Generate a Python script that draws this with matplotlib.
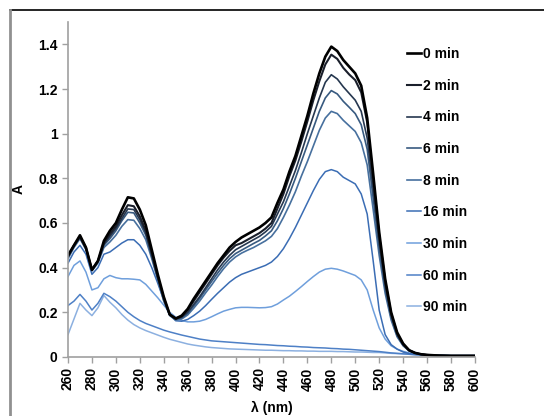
import matplotlib
matplotlib.use("Agg")
import matplotlib.pyplot as plt
from matplotlib.lines import Line2D

plt.rcParams['font.family'] = ['Liberation Sans', 'DejaVu Sans']
plt.rcParams['font.weight'] = 'bold'

# wavelength grid (nm)
wl = list(range(260, 561, 5)) + [570, 580, 590, 600]

labels = ["0 min", "2 min", "4 min", "6 min", "8 min", "16 min", "30 min", "60 min", "90 min"]
colors = ["#000000", "#1a1f2b", "#26374f", "#385a80", "#47709e", "#3b6db4", "#6f9fdc", "#4e80c6", "#8cb0e0"]
widths = [1.9, 1.5, 1.2, 1.2, 1.2, 1.1, 1.1, 1.1, 1.1]

a0 = [0.455, 0.50, 0.545, 0.49, 0.39, 0.43, 0.52, 0.565, 0.60, 0.66, 0.715, 0.71, 0.66,
      0.59, 0.48, 0.37, 0.27, 0.19, 0.172, 0.185, 0.215, 0.26, 0.30, 0.34, 0.38, 0.42,
      0.455, 0.49, 0.515, 0.535, 0.55, 0.565, 0.58, 0.60, 0.625, 0.69, 0.75, 0.83, 0.90,
      0.99, 1.08, 1.18, 1.27, 1.345, 1.39, 1.37, 1.33, 1.30, 1.27, 1.215, 1.07, 0.82,
      0.56, 0.35, 0.20, 0.11, 0.06, 0.03, 0.018, 0.012, 0.009, 0.006, 0.005, 0.005, 0.005]
a2 = [0.45, 0.50, 0.54, 0.49, 0.39, 0.43, 0.51, 0.55, 0.585, 0.635, 0.68, 0.675, 0.63,
      0.565, 0.465, 0.36, 0.265, 0.19, 0.172, 0.182, 0.21, 0.25, 0.29, 0.33, 0.37, 0.41,
      0.445, 0.475, 0.50, 0.51, 0.525, 0.54, 0.555, 0.575, 0.60, 0.665, 0.73, 0.81, 0.88,
      0.965, 1.055, 1.15, 1.235, 1.31, 1.354, 1.335, 1.295, 1.265, 1.24, 1.185, 1.05, 0.80,
      0.545, 0.34, 0.195, 0.105, 0.057, 0.03, 0.018, 0.012, 0.009, 0.006, 0.005, 0.005, 0.005]
a4 = [0.45, 0.50, 0.535, 0.485, 0.39, 0.43, 0.505, 0.54, 0.575, 0.62, 0.663, 0.66, 0.615,
      0.555, 0.455, 0.355, 0.26, 0.19, 0.17, 0.178, 0.20, 0.235, 0.27, 0.31, 0.35, 0.39,
      0.425, 0.455, 0.48, 0.495, 0.51, 0.525, 0.54, 0.56, 0.585, 0.64, 0.695, 0.765, 0.835,
      0.915, 1.0, 1.08, 1.16, 1.23, 1.264, 1.245, 1.21, 1.18, 1.15, 1.10, 0.98, 0.75,
      0.515, 0.32, 0.185, 0.10, 0.055, 0.03, 0.018, 0.012, 0.009, 0.006, 0.005, 0.005, 0.005]
a6 = [0.445, 0.495, 0.535, 0.485, 0.39, 0.425, 0.50, 0.53, 0.565, 0.61, 0.648, 0.645, 0.60,
      0.545, 0.45, 0.35, 0.255, 0.188, 0.168, 0.175, 0.195, 0.228, 0.262, 0.30, 0.338, 0.375,
      0.41, 0.44, 0.463, 0.478, 0.493, 0.508, 0.522, 0.542, 0.565, 0.61, 0.665, 0.73, 0.80,
      0.875, 0.95, 1.025, 1.10, 1.16, 1.193, 1.178, 1.145, 1.118, 1.09, 1.04, 0.93, 0.71,
      0.49, 0.305, 0.175, 0.095, 0.052, 0.028, 0.017, 0.011, 0.008, 0.006, 0.005, 0.005, 0.005]
a8 = [0.44, 0.49, 0.53, 0.48, 0.385, 0.42, 0.49, 0.515, 0.545, 0.585, 0.615, 0.612, 0.575,
      0.525, 0.44, 0.345, 0.25, 0.185, 0.165, 0.17, 0.188, 0.218, 0.25, 0.287, 0.322, 0.36,
      0.395, 0.425, 0.448, 0.465, 0.478, 0.49, 0.505, 0.52, 0.54, 0.575, 0.625, 0.68, 0.74,
      0.81, 0.875, 0.945, 1.015, 1.07, 1.10, 1.09, 1.06, 1.035, 1.01, 0.96, 0.86, 0.66,
      0.455, 0.285, 0.165, 0.09, 0.05, 0.027, 0.016, 0.011, 0.008, 0.006, 0.005, 0.005, 0.005]
a16 = [0.42, 0.47, 0.50, 0.46, 0.37, 0.40, 0.46, 0.47, 0.49, 0.51, 0.525, 0.525, 0.50,
       0.46, 0.40, 0.33, 0.255, 0.19, 0.162, 0.16, 0.168, 0.185, 0.205, 0.23, 0.258, 0.285,
       0.31, 0.335, 0.355, 0.37, 0.38, 0.39, 0.40, 0.41, 0.425, 0.45, 0.485, 0.53, 0.58,
       0.635, 0.69, 0.745, 0.795, 0.83, 0.839, 0.83, 0.805, 0.79, 0.775, 0.73, 0.64, 0.43,
       0.21, 0.10, 0.055, 0.035, 0.022, 0.015, 0.012, 0.01, 0.008, 0.006, 0.005, 0.005, 0.005]
a30 = [0.36, 0.41, 0.43, 0.38, 0.30, 0.31, 0.35, 0.365, 0.355, 0.35, 0.35, 0.348, 0.345,
       0.325, 0.295, 0.265, 0.232, 0.20, 0.178, 0.163, 0.157, 0.157, 0.16, 0.168, 0.18, 0.193,
       0.205, 0.213, 0.22, 0.222, 0.222, 0.221, 0.22, 0.221, 0.225, 0.237, 0.255, 0.272, 0.293,
       0.315, 0.338, 0.36, 0.38, 0.393, 0.397, 0.393, 0.385, 0.375, 0.365, 0.345, 0.30, 0.21,
       0.13, 0.08, 0.05, 0.035, 0.025, 0.018, 0.013, 0.01, 0.008, 0.006, 0.005, 0.005, 0.005]
a60 = [0.23, 0.25, 0.28, 0.25, 0.21, 0.24, 0.285, 0.27, 0.25, 0.225, 0.20, 0.18, 0.163,
       0.15, 0.14, 0.13, 0.12, 0.112, 0.105, 0.098, 0.092, 0.086, 0.08, 0.076, 0.072, 0.07,
       0.068, 0.066, 0.064, 0.062, 0.06, 0.058, 0.056, 0.055, 0.053, 0.051, 0.05, 0.048, 0.047,
       0.045, 0.044, 0.042, 0.041, 0.04, 0.038, 0.037, 0.035, 0.034, 0.032, 0.03, 0.028, 0.026,
       0.024, 0.021, 0.018, 0.016, 0.014, 0.012, 0.01, 0.009, 0.008, 0.007, 0.006, 0.006, 0.006]
a90 = [0.10, 0.17, 0.24, 0.21, 0.185, 0.22, 0.275, 0.245, 0.22, 0.19, 0.165, 0.145, 0.13,
       0.118, 0.108, 0.098, 0.088, 0.079, 0.072, 0.065, 0.058, 0.053, 0.049, 0.045, 0.042, 0.04,
       0.038, 0.036, 0.035, 0.034, 0.033, 0.032, 0.031, 0.03, 0.03, 0.029, 0.028, 0.028, 0.027,
       0.027, 0.026, 0.026, 0.025, 0.025, 0.025, 0.024, 0.024, 0.023, 0.022, 0.022, 0.021, 0.02,
       0.02, 0.018, 0.016, 0.015, 0.014, 0.012, 0.01, 0.009, 0.008, 0.007, 0.006, 0.006, 0.006]

series = [a0, a2, a4, a6, a8, a16, a30, a60, a90]

fig = plt.figure(figsize=(5.44, 4.16), dpi=100)
ax = fig.add_axes([0.125, 0.142, 0.748, 0.805])

# draw lighter/later curves first so the dark ones sit on top
for ys, lab, c, w in reversed(list(zip(series, labels, colors, widths))):
    ax.plot(wl, ys, color=c, lw=w, label=lab, solid_joinstyle='round')

ax.set_xlim(260, 600)
ax.set_ylim(0, 1.5)
ax.set_xticks(range(260, 601, 20))
ax.set_yticks([0, 0.2, 0.4, 0.6, 0.8, 1.0, 1.2, 1.4])
ax.set_yticklabels(["0", "0.2", "0.4", "0.6", "0.8", "1", "1.2", "1.4"])
ax.tick_params(axis='x', labelrotation=90, labelsize=10, length=4, color='#a0a0a0', width=1)
ax.tick_params(axis='y', labelsize=10, length=4, color='#a0a0a0', width=1)
for s in ['top', 'right']:
    ax.spines[s].set_visible(False)
for s in ['left', 'bottom']:
    ax.spines[s].set_color('#a0a0a0')
    ax.spines[s].set_linewidth(1.2)

ax.set_xlabel("λ (nm)", fontsize=10, fontweight='bold')
ax.xaxis.set_label_coords(0.5, -0.13)
ax.set_ylabel("A", fontsize=10, fontweight='bold')
ax.yaxis.set_label_coords(-0.105, 0.5)

handles, labs = ax.get_legend_handles_labels()
ax.legend(handles[::-1], labs[::-1], loc='upper left', bbox_to_anchor=(0.738, 0.90),
          bbox_transform=fig.transFigure, frameon=False, fontsize=10,
          handlelength=1.0, handletextpad=0.15, labelspacing=1.27, borderaxespad=0)

# chart-area border
fig.add_artist(Line2D([10 / 544, 1.0], [1 - 10 / 416] * 2, color='black', lw=1.2,
                      transform=fig.transFigure))
fig.add_artist(Line2D([10 / 544] * 2, [0, 1 - 10 / 416], color='#909090', lw=2,
                      transform=fig.transFigure))

fig.savefig("out.png", dpi=100)
